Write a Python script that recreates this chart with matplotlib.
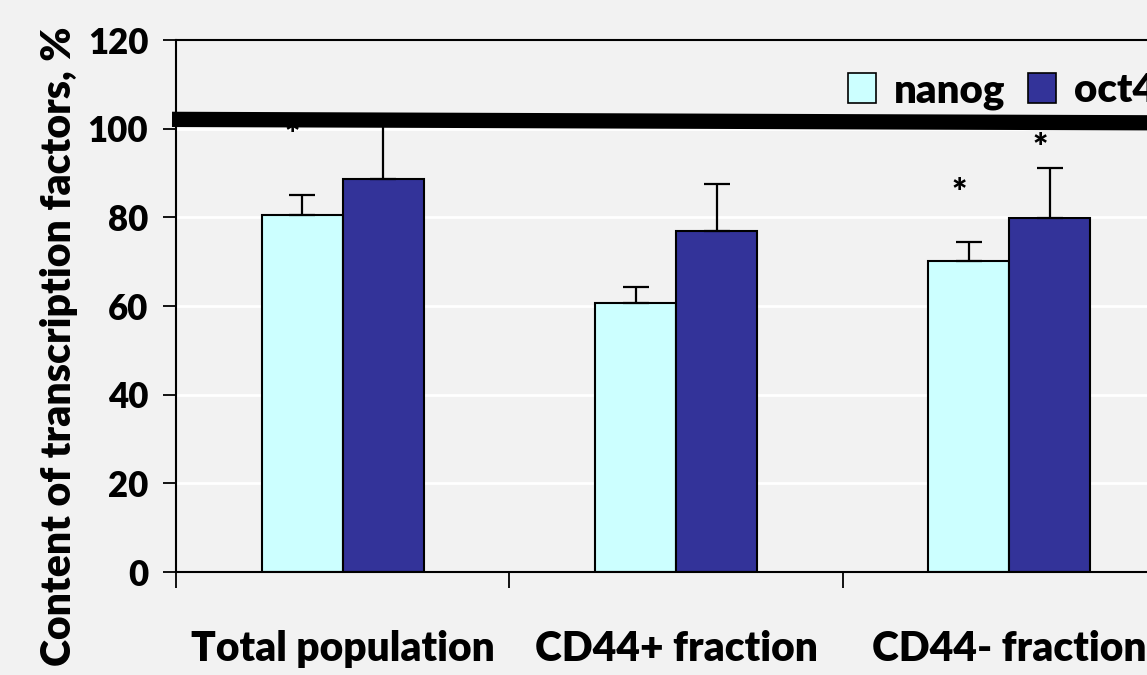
import matplotlib
matplotlib.use("Agg")
import matplotlib.pyplot as plt
import numpy as np
from matplotlib.patches import Patch

categories = ["Total population", "CD44+ fraction", "CD44- fraction"]
series_names = ["nanog", "oct4"]
nanog_values = [80.5, 60.7, 70.2]
nanog_err = [4.6, 3.6, 4.2]
oct4_values = [88.7, 76.9, 79.9]
oct4_err = [13.5, 10.6, 11.2]
# asterisks: (category index, series index, y)
star_cat = [0, 2, 2]
star_series = [0, 0, 1]
star_y = [98.5, 85.3, 95.6]
yticks = [0, 20, 40, 60, 80, 100, 120]
# the thick horizontal stroke across the chart (data units)
stroke_x = [-0.512, 2.5]
stroke_y = [102.1, 101.3]

FONT = ["Lato", "DejaVu Sans"]
WT = "heavy"
plt.rcParams["font.family"] = FONT
plt.rcParams["font.weight"] = WT

bg = "#f2f2f2"
fig = plt.figure(figsize=(11.47, 6.75), dpi=100, facecolor=bg)
ax = fig.add_axes([176 / 1147, 1 - 572 / 675, 1000 / 1147, 532 / 675])
ax.set_facecolor(bg)

x = np.arange(len(categories))
w = 0.243
colors = ["#ccffff", "#333399"]

for v in yticks[1:-1]:
    ax.axhline(v, color="white", lw=2, zorder=0.5)

ek = dict(ecolor="black", elinewidth=1.6, capsize=9.5, capthick=1.6)
ax.bar(x - w / 2, nanog_values, w, color=colors[0], edgecolor="black", lw=1.5,
       yerr=[np.zeros(3), nanog_err], error_kw=ek, zorder=2, label=series_names[0])
ax.bar(x + w / 2, oct4_values, w, color=colors[1], edgecolor="black", lw=1.5,
       yerr=[np.zeros(3), oct4_err], error_kw=ek, zorder=2, label=series_names[1])

for c, s, yv in zip(star_cat, star_series, star_y):
    xs = x[c] + (s - 0.5) * w - 0.03
    ax.text(xs, yv, "*", ha="center", va="center", fontsize=26, fontweight=WT, zorder=3)

ax.plot(stroke_x, stroke_y, color="black", lw=11, solid_capstyle="butt", zorder=5, clip_on=False)

ax.set_xlim(-0.5, len(categories) - 0.5)
ax.set_ylim(0, 120)
ax.set_yticks(yticks)
ax.set_yticklabels([str(t) for t in yticks], fontsize=25, fontweight=WT)
ax.tick_params(axis="y", direction="out", length=9.5, width=1.3, pad=10.5)

ax.set_xticks(x)
ax.set_xticklabels(categories, fontsize=29.3, fontweight=WT)
ax.tick_params(axis="x", which="major", length=0, pad=42)
ax.set_xticks(np.arange(-0.5, len(categories) + 0.5, 1), minor=True)
ax.tick_params(axis="x", which="minor", direction="out", length=11.5, width=1.3)

for sp in ["left", "bottom", "top"]:
    ax.spines[sp].set_linewidth(1.5)
ax.spines["right"].set_visible(False)

ax.set_ylabel("Content of transcription factors, %", fontsize=29.5, fontweight=WT)
ax.yaxis.set_label_coords(-0.098, 0.425)

handles = [Patch(facecolor=colors[0], edgecolor="black", lw=1.2),
           Patch(facecolor=colors[1], edgecolor="black", lw=1.2)]
fig.legend(handles, series_names, loc="upper left", bbox_to_anchor=(848 / 1147, 1 - 72 / 675),
           ncol=2, frameon=False, prop=dict(family=FONT, size=29, weight=WT),
           handlelength=0.7, handleheight=0.78, handletextpad=0.45, columnspacing=0.55,
           borderaxespad=0, borderpad=0)

fig.savefig("out.png", dpi=100, facecolor=bg)
